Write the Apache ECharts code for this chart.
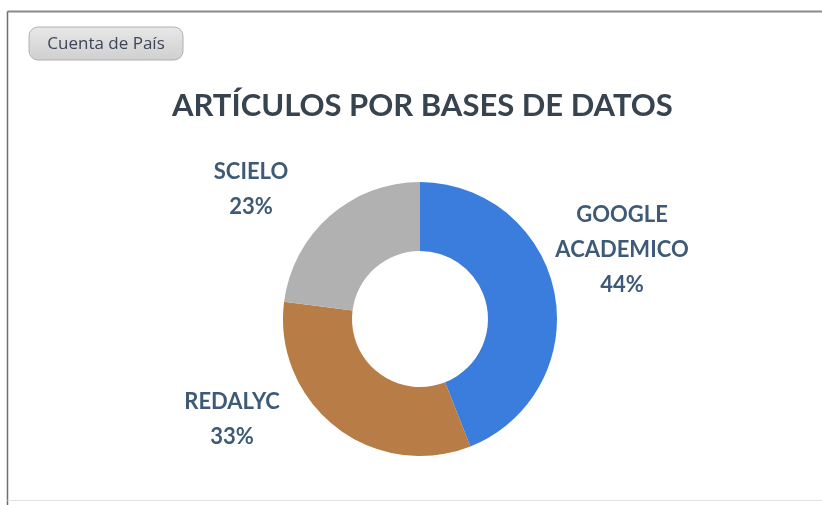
<!DOCTYPE html>
<html>
<head>
<meta charset="utf-8">
<script src="https://cdn.jsdelivr.net/npm/echarts@6/dist/echarts.min.js"></script>
<style>
  html, body { margin: 0; padding: 0; background: #fff; }
  #chart { width: 822px; height: 505px; }
</style>
</head>
<body>
<div id="chart"></div>
<script>
const categories = ['GOOGLE\nACADEMICO', 'REDALYC', 'SCIELO']
const values = [44, 33, 23]
const colors = ['#3b7ddd', '#b87c46', '#b1b1b1']

// where the data labels sit (Excel puts them by hand-ish)
const labelPos = {
  'GOOGLE\nACADEMICO': [622, 250],
  'REDALYC': [232, 419],
  'SCIELO': [251, 189]
}

const chart = echarts.init(document.getElementById('chart'))

chart.setOption({
  backgroundColor: '#fff',
  animation: false,
  color: colors,
  title: {
    text: 'ARTÍCULOS POR BASES DE DATOS',
    left: 167,
    top: 85,
    textStyle: {
      fontFamily: 'Lato',
      fontSize: 31,
      fontWeight: 'bold',
      color: '#37434f'
    }
  },
  graphic: [
    {
      type: 'line',
      shape: { x1: 7.5, y1: 11.5, x2: 822, y2: 11.5 },
      style: { stroke: '#8a8a8a', lineWidth: 2 }
    },
    {
      type: 'line',
      shape: { x1: 7.5, y1: 11.5, x2: 7.5, y2: 505 },
      style: { stroke: '#6e6e6e', lineWidth: 1.5 }
    },
    {
      type: 'line',
      shape: { x1: 7.5, y1: 500.5, x2: 822, y2: 500.5 },
      style: { stroke: '#e2e2e2', lineWidth: 1 }
    },
    {
      type: 'rect',
      shape: { x: 29, y: 27, width: 154, height: 33, r: 9 },
      style: {
        fill: new echarts.graphic.LinearGradient(0, 0, 0, 1, [
          { offset: 0, color: '#e8e8e8' },
          { offset: 1, color: '#cfcfcf' }
        ]),
        stroke: '#b0b0b0',
        lineWidth: 1
      }
    },
    {
      type: 'text',
      x: 106,
      y: 44,
      style: {
        text: 'Cuenta de País',
        fontFamily: 'Open Sans',
        fontSize: 17,
        fill: '#3c4658',
        align: 'center',
        verticalAlign: 'middle'
      }
    }
  ],
  series: [
    {
      type: 'pie',
      center: [420, 319],
      radius: [68, 137],
      startAngle: 90,
      clockwise: true,
      label: {
        show: true,
        position: 'outside',
        formatter: '{b}\n{d}%',
        fontFamily: 'Lato',
        fontSize: 22,
        fontWeight: 'bold',
        lineHeight: 35,
        color: '#3e5a76',
        align: 'center'
      },
      labelLine: { show: false },
      labelLayout: function (params) {
        const p = labelPos[categories[params.dataIndex]]
        return { x: p[0], y: p[1], align: 'center', verticalAlign: 'middle' }
      },
      emphasis: { disabled: true },
      data: categories.map((name, i) => ({ name, value: values[i] }))
    }
  ]
})
</script>
</body>
</html>
